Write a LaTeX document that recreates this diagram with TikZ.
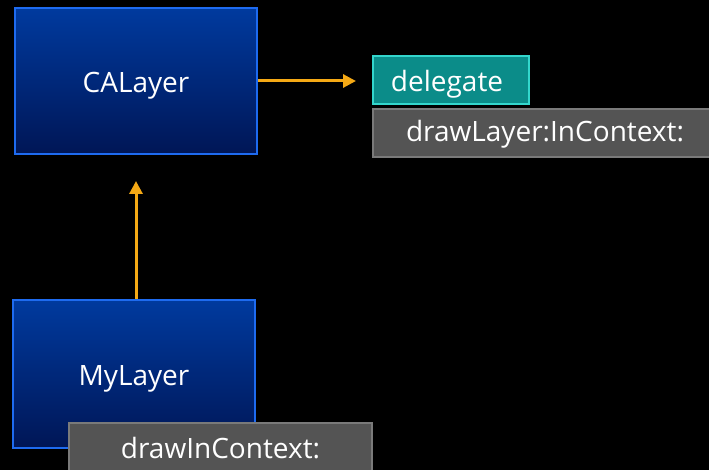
\documentclass[tikz,border=0pt]{standalone}
\usepackage{fontspec}
\setmainfont{Open Sans}
\usetikzlibrary{arrows.meta}
\definecolor{bgc}{HTML}{000000}
\definecolor{boxtop}{HTML}{003A9E}
\definecolor{boxbot}{HTML}{001656}
\definecolor{boxedge}{HTML}{1E6BF0}
\definecolor{tealfill}{HTML}{0B8C89}
\definecolor{tealedge}{HTML}{33D6CC}
\definecolor{grayfill}{HTML}{545454}
\definecolor{grayedge}{HTML}{7A7A7A}
\definecolor{arrc}{HTML}{F5A915}
\tikzset{
  classbox/.style={draw=boxedge, line width=1.6pt, top color=boxtop, bottom color=boxbot,
    text=white, font=\fontsize{28}{30}\selectfont, inner sep=0pt, text height=25pt, text depth=2pt},
  propbox/.style={draw=tealedge, line width=1.6pt, fill=tealfill, text=white,
    font=\fontsize{28}{30}\selectfont, inner sep=0pt, text height=25pt, text depth=1pt},
  methbox/.style={draw=grayedge, line width=1.6pt, fill=grayfill, text=white,
    font=\fontsize{28}{30}\selectfont, inner sep=0pt, text height=20pt, text depth=2pt},
  arr/.style={draw=arrc, line width=3pt, -{Triangle[length=13pt,width=13pt]}}
}
\begin{document}
\begin{tikzpicture}[x=1pt,y=-1pt]
\fill[bgc] (0,0) rectangle (709,470);
\useasboundingbox (0,0) rectangle (709,470);
\clip (0,0) rectangle (709,470);
\node[classbox, minimum width=242pt, minimum height=146pt] (ca) at (136,81) {CALayer};
\node[classbox, minimum width=242pt, minimum height=148pt] (my) at (134,374) {MyLayer};
\node[propbox, minimum width=156pt, minimum height=48pt] (del) at (451,80) {\hspace*{-8pt}delegate};
\node[methbox, minimum width=339pt, minimum height=48pt, text width=339pt, align=left] (dl) at (542.5,133) {\hspace*{33pt}drawLayer:InContext:};
\node[methbox, minimum width=303pt, minimum height=52pt] (dic) at (220.5,449) {drawInContext:};
\coordinate (tipA) at (356,81);
\coordinate (tipB) at (136,181);
\draw[arr] (ca.east |- tipA) -- (tipA);
\draw[arr] (tipB |- my.north) -- (tipB);
\end{tikzpicture}
\end{document}
